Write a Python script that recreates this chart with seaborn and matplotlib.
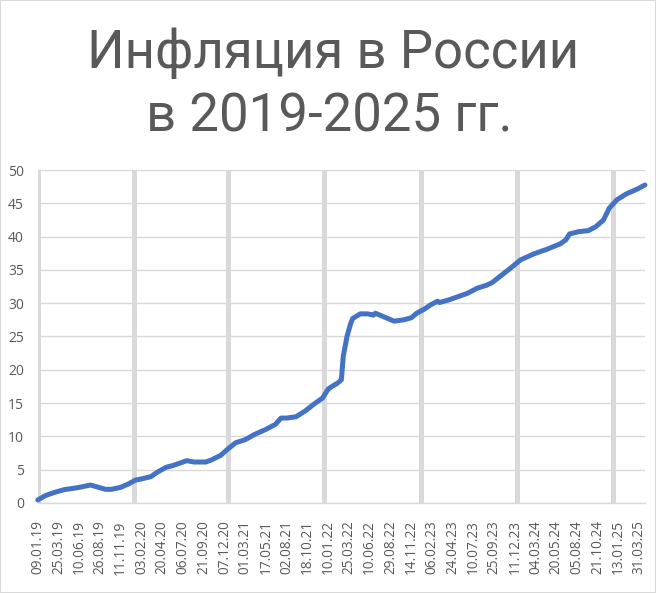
import pandas as pd
import matplotlib.pyplot as plt
import seaborn as sns
from matplotlib.patches import Rectangle

# Cumulative inflation since the start of 2019, %.
# week = number of the weekly observation (0 = 09.01.19)
weeks = [0, 4, 9, 14, 20, 23, 28, 31, 36, 39, 44, 48, 52, 54, 60, 63, 68, 72,
         76, 79, 83, 89, 92, 97, 101, 105, 110, 115, 121, 126, 129, 132, 137,
         142, 146, 151, 154, 156, 159, 161, 162, 164, 166, 167, 171, 175, 178,
         179, 184, 189, 194, 198, 201, 205, 208, 212, 213, 218, 223, 228, 233,
         238, 241, 245, 250, 256, 263, 270, 277, 280, 282, 287, 292, 296, 300,
         303, 307, 312, 318, 322]
inflation = [0.45, 1.1, 1.6, 2.0, 2.25, 2.4, 2.7, 2.45, 2.05, 2.05, 2.35, 2.85,
             3.45, 3.55, 3.95, 4.55, 5.35, 5.65, 6.05, 6.35, 6.15, 6.15, 6.45,
             7.15, 8.15, 9.05, 9.5, 10.3, 11.05, 11.8, 12.75, 12.75, 12.95,
             13.85, 14.75, 15.75, 17.1, 17.5, 18.0, 18.5, 22.0, 25.0, 27.0,
             27.7, 28.4, 28.4, 28.2, 28.5, 27.9, 27.3, 27.5, 27.8, 28.5, 29.1,
             29.7, 30.3, 30.1, 30.5, 31.0, 31.5, 32.25, 32.7, 33.1, 34.0, 35.1,
             36.5, 37.4, 38.1, 38.9, 39.5, 40.4, 40.75, 40.9, 41.5, 42.5, 44.25,
             45.5, 46.4, 47.15, 47.75]

# first observation of each year (2019..2025)
new_year_weeks = [0, 51, 101, 152, 203, 254, 305]

# x labels, one every 11 observations
tick_labels = ['09.01.19', '25.03.19', '10.06.19', '26.08.19', '11.11.19',
               '03.02.20', '20.04.20', '06.07.20', '21.09.20', '07.12.20',
               '01.03.21', '17.05.21', '02.08.21', '18.10.21', '10.01.22',
               '25.03.22', '10.06.22', '29.08.22', '14.11.22', '06.02.23',
               '24.04.23', '10.07.23', '25.09.23', '11.12.23', '04.03.24',
               '20.05.24', '05.08.24', '21.10.24', '13.01.25', '31.03.25']

df = pd.DataFrame({'week': weeks, 'inflation': inflation})

sns.set_theme(style="white")
plt.rcParams['font.family'] = ['Open Sans', 'DejaVu Sans']

grey = '#d9d9d9'
text_grey = '#595959'

fig = plt.figure(figsize=(6.56, 5.93), dpi=100)
fig.patch.set_facecolor('white')
ax = fig.add_axes([0.0575, 0.1518, 0.9257, 0.5615])

for w in new_year_weeks:
    ax.axvline(w, color=grey, lw=3.6, zorder=1)

sns.lineplot(data=df, x='week', y='inflation', ax=ax, color='#4472c4',
             lw=3.6, zorder=3, solid_capstyle='round', clip_on=False)

ax.set_xlim(0, 322)
ax.set_ylim(0, 50)
ax.set_yticks(range(0, 51, 5))
ax.set_xticks(range(0, 11 * len(tick_labels), 11))
ax.set_xticklabels(tick_labels, rotation=90)
ax.set_xlabel('')
ax.set_ylabel('')
ax.yaxis.grid(True, color=grey, lw=1, zorder=0)
ax.xaxis.grid(False)

for side in ['left', 'right', 'top']:
    ax.spines[side].set_visible(False)
ax.spines['bottom'].set_color(grey)
ax.spines['bottom'].set_linewidth(1)

ax.tick_params(axis='y', length=0, pad=10, labelsize=10, labelcolor=text_grey)
ax.tick_params(axis='x', length=0, pad=12.5, labelsize=9.8, labelcolor=text_grey)

title_font = ['Roboto', 'DejaVu Sans']
fig.text(0.507, 0.885, 'Инфляция в России', ha='center', va='baseline',
         fontsize=38, color=text_grey, family=title_font)
fig.text(0.502, 0.779, 'в 2019-2025 гг.', ha='center', va='baseline',
         fontsize=38, color=text_grey, family=title_font)

fig.add_artist(Rectangle((0, 0), 1, 1, transform=fig.transFigure, fill=False,
                         edgecolor=grey, lw=1.5))

fig.savefig('out.png', dpi=100)
